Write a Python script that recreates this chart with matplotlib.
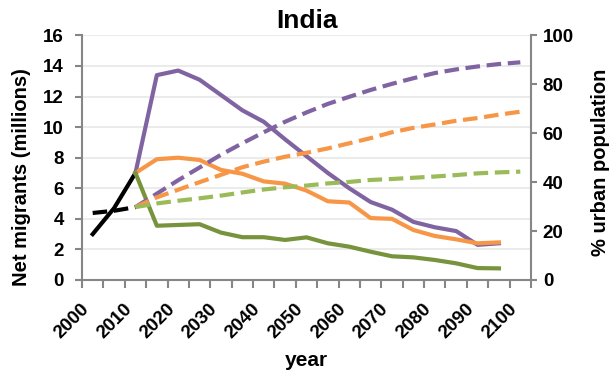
import matplotlib.pyplot as plt
import matplotlib.transforms as mtransforms
import numpy as np

plt.rcParams['font.family'] = ['Liberation Sans', 'DejaVu Sans']
plt.rcParams['font.weight'] = 'bold'

# observed period
years_hist = [2000, 2005, 2010]
migrants_hist = [3.0, 4.7, 7.0]
urban_hist = [27.4, 28.3, 29.8]

# projections: net migrants to 2095, urban share to 2100
years_mig = list(range(2010, 2096, 5))
years_urb = list(range(2010, 2101, 5))

migrants_high = [7.0, 13.4, 13.7, 13.1, 12.1, 11.1, 10.35, 9.2, 8.1, 7.0,
                 6.0, 5.1, 4.6, 3.8, 3.45, 3.2, 2.3, 2.4]
migrants_mid = [7.0, 7.9, 8.0, 7.85, 7.2, 6.95, 6.45, 6.3, 5.85, 5.15,
                5.07, 4.05, 4.0, 3.27, 2.88, 2.66, 2.4, 2.46]
migrants_low = [7.0, 3.55, 3.6, 3.65, 3.1, 2.8, 2.8, 2.62, 2.79, 2.4,
                2.18, 1.85, 1.55, 1.48, 1.31, 1.09, 0.78, 0.76]

urban_high = [29.8, 35.3, 40.8, 46.0, 51.2, 55.9, 60.4, 64.7, 68.5, 72.0,
              74.9, 77.7, 80.2, 82.5, 84.6, 86.1, 87.3, 88.3, 89.0]
urban_mid = [29.8, 33.8, 36.9, 40.0, 43.0, 46.1, 48.4, 50.4, 52.0, 53.8,
             55.9, 58.0, 60.4, 62.2, 63.6, 65.1, 66.2, 67.6, 68.8]
urban_low = [29.8, 31.3, 32.4, 33.4, 34.5, 35.8, 37.0, 37.9, 38.6, 39.5,
             40.1, 40.9, 41.3, 41.8, 42.3, 42.9, 43.6, 44.0, 44.3]

purple = '#8064A2'
orange = '#F79646'
green_dark = '#77933C'
green_light = '#9BBB59'
axis_gray = '#868686'

fig = plt.figure(figsize=(6.16, 3.81), dpi=100)
ax = fig.add_axes([82 / 616, 101 / 381, 449 / 616, 244.6 / 381])
ax2 = ax.twinx()

lw = 3.0
ax.plot(years_hist, migrants_hist, color='black', lw=lw)
ax.plot(years_mig, migrants_high, color=purple, lw=lw)
ax.plot(years_mig, migrants_mid, color=orange, lw=lw)
ax.plot(years_mig, migrants_low, color=green_dark, lw=lw)

dash = (3.5, 1.6)
ax2.plot(years_hist, urban_hist, color='black', lw=lw, dashes=dash)
ax2.plot(years_urb, urban_high, color=purple, lw=lw, dashes=dash)
ax2.plot(years_urb, urban_mid, color=orange, lw=lw, dashes=dash)
ax2.plot(years_urb, urban_low, color=green_light, lw=lw, dashes=dash)

ax.set_xlim(1997.5, 2102.5)
ax.set_ylim(0, 16)
ax2.set_ylim(0, 100)
ax.set_yticks(np.arange(0, 17, 2))
ax2.set_yticks(np.arange(0, 101, 20))

ax.set_xticks(range(2000, 2101, 10))
ax.set_xticklabels([str(y) for y in range(2000, 2101, 10)],
                   rotation=45, ha='right', va='top')
ax.set_xticks(np.arange(1997.5, 2103, 5), minor=True)

# nudge the slanted year labels so their ends sit under the category
shift = mtransforms.ScaledTranslation(4 / 72, 0, fig.dpi_scale_trans)
for lab in ax.get_xticklabels():
    lab.set_transform(lab.get_transform() + shift)

ax.yaxis.grid(True, color='#e8e8e8', lw=1.2)
ax.set_axisbelow(True)

for a in (ax, ax2):
    a.spines['top'].set_visible(False)
ax.spines['right'].set_visible(False)
ax2.spines['left'].set_visible(False)
ax2.spines['bottom'].set_visible(False)
for s in (ax.spines['left'], ax.spines['bottom'], ax2.spines['right']):
    s.set_color(axis_gray)
    s.set_linewidth(1.5)

ax.tick_params(axis='x', which='major', length=0, pad=15, labelsize=13.5)
ax.tick_params(axis='x', which='minor', length=6, width=1.5, color=axis_gray)
ax.tick_params(axis='y', length=5, width=1.5, color=axis_gray, pad=8,
               labelsize=13.5)
ax2.tick_params(axis='y', length=4.5, width=1.5, color=axis_gray, pad=4,
                labelsize=13.5)

ax.set_title('India', fontsize=19, fontweight='bold', pad=5)
ax.set_xlabel('year', fontsize=15, fontweight='bold', labelpad=6)
ax.set_ylabel('Net migrants (millions)', fontsize=14.5, fontweight='bold')
ax.yaxis.set_label_coords(-0.113, 0.42)
ax2.set_ylabel('% urban population', fontsize=14.5, fontweight='bold')
ax2.yaxis.set_label_coords(1.134, 0.48)

fig.savefig('out.png', dpi=100)
